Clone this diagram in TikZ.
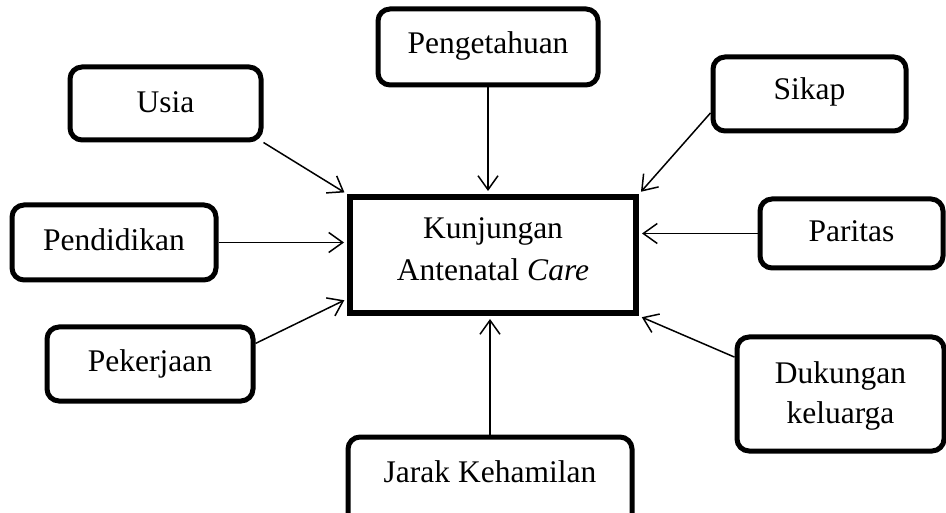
\documentclass[tikz,border=0pt]{standalone}
\usepackage{fontspec}
\setmainfont{Liberation Serif}
\usetikzlibrary{arrows.meta,calc}
\begin{document}
\begin{tikzpicture}[x=1pt,y=-1pt,
  rbox/.style={draw,line width=5pt,rounded corners=12pt,inner sep=0pt,
    font=\fontsize{31.5}{40}\selectfont,text height=21pt},
  cbox/.style={draw,line width=6pt,inner sep=0pt},
  txt/.style={inner sep=0pt,align=center},
  arr/.style={line width=1.5pt,shorten >=3pt,
    -{Straight Barb[length=14pt,width=20pt,line width=1.5pt]}}]
\path[use as bounding box] (0,0) rectangle (946,513);
\clip (0,0) rectangle (946,513);

\node[cbox,minimum width=286pt,minimum height=116pt] (kac) at (493,255) {};
\node[txt,anchor=base,font=\fontsize{31.5}{42.4}\selectfont] (kactxt) at (493,280.7) {Kunjungan\\Antenatal \textit{Care}};

\node[rbox,text depth=2.6pt,minimum width=191pt,minimum height=73pt] (usia) at (165.5,103.5) {Usia};
\node[rbox,text depth=4.6pt,minimum width=204pt,minimum height=75pt] (pend) at (114,242.5) {Pendidikan};
\node[rbox,text depth=5.6pt,minimum width=206pt,minimum height=74pt] (pek) at (150,364) {Pekerjaan};
\node[rbox,text depth=8.4pt,minimum width=220pt,minimum height=76pt] (peng) at (488,47) {Pengetahuan};
\node[rbox,text depth=9pt,minimum width=193pt,minimum height=74pt] (sikap) at (809.5,94) {Sikap};
\node[rbox,text depth=4.6pt,minimum width=183pt,minimum height=69pt] (par) at (851.5,233.5) {Paritas};
\node[rbox,minimum width=207pt,minimum height=114pt] (duk) at (840.5,394) {};
\node[txt,anchor=base,font=\fontsize{31.5}{40}\selectfont] (duktxt) at (840.5,423.3) {Dukungan\\keluarga};
\node[rbox,minimum width=284pt,minimum height=90pt,text depth=21pt] (jarak) at (490,482) {Jarak Kehamilan};

\draw[arr] (usia.south east) -- (kac.north west);
\draw[arr] (pend.east) -- (pend.east -| kac.west);
\draw[arr] ($(pek.north east)!0.24!(pek.south east)$) -- ($(kac.north west)!0.86!(kac.south west)$);
\draw[arr] (peng.south) -- (peng.south |- kac.north);
\draw[arr] ($(sikap.north west)!0.74!(sikap.south west)$) -- (kac.north east);
\draw[arr] (par.west) -- (par.west -| kac.east);
\draw[arr] ($(duk.north west)!0.19!(duk.south west)$) -- (kac.south east);
\draw[arr] (jarak.north) -- (jarak.north |- kac.south);
\end{tikzpicture}
\end{document}
